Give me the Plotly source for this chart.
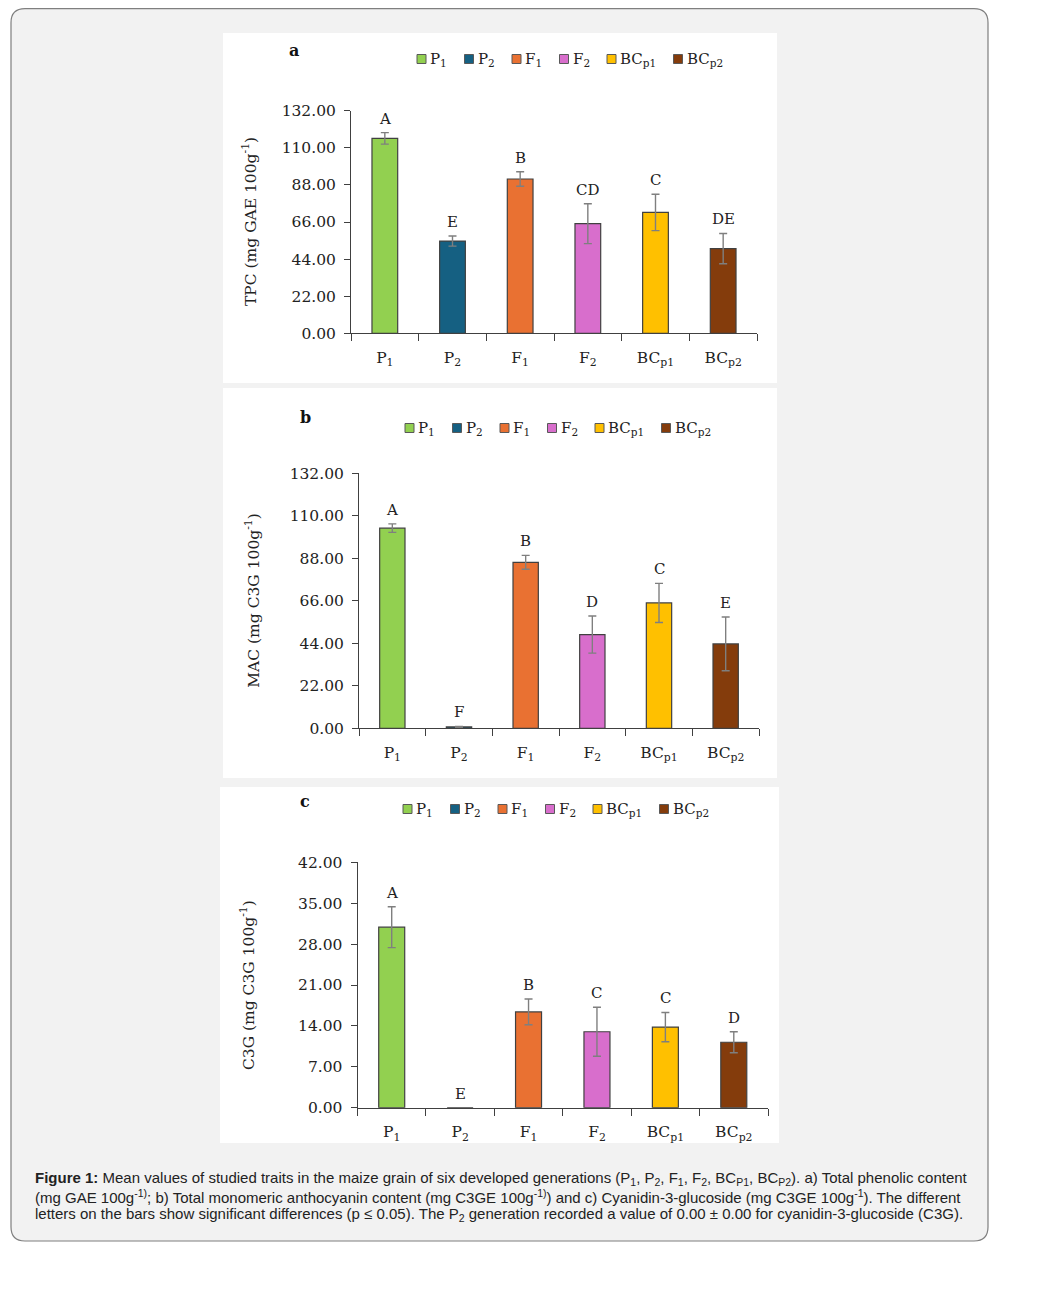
import plotly.graph_objects as go

# Data
generations = ['P<sub>1</sub>', 'P<sub>2</sub>', 'F<sub>1</sub>', 'F<sub>2</sub>',
               'BC<sub>p1</sub>', 'BC<sub>p2</sub>']

tpc = [115.6, 54.7, 91.5, 65.0, 71.7, 50.2]
tpc_err = [3.4, 3.0, 4.3, 11.8, 10.8, 9.0]
tpc_letters = ['A', 'E', 'B', 'CD', 'C', 'DE']

mac = [103.6, 0.7, 85.9, 48.5, 64.9, 43.7]
mac_err = [2.2, 0.3, 3.6, 9.6, 10.1, 13.9]
mac_letters = ['A', 'F', 'B', 'D', 'C', 'E']

c3g = [30.9, 0.0, 16.4, 13.0, 13.8, 11.2]
c3g_err = [3.5, 0.0, 2.2, 4.2, 2.5, 1.8]
c3g_letters = ['A', 'E', 'B', 'C', 'C', 'D']

tpc_ticks = [0, 22, 44, 66, 88, 110, 132]
mac_ticks = [0, 22, 44, 66, 88, 110, 132]
c3g_ticks = [0, 7, 14, 21, 28, 35, 42]

colors = ['#92d050', '#156082', '#e97132', '#d86ecc', '#ffc000', '#843c0c']

caption_lines = [
    '<b>Figure 1:</b> Mean values of studied traits in the maize grain of six developed '
    'generations (P<sub>1</sub>, P<sub>2</sub>, F<sub>1</sub>, F<sub>2</sub>, '
    'BC<sub>P1</sub>, BC<sub>P2</sub>). a) Total phenolic content',
    '(mg GAE 100g<sup>-1)</sup>; b) Total monomeric anthocyanin content '
    '(mg C3GE 100g<sup>-1)</sup>) and c) Cyanidin-3-glucoside (mg C3GE 100g<sup>-1</sup>). '
    'The different',
    'letters on the bars show significant differences (p ≤ 0.05). '
    'The P<sub>2</sub> generation recorded a value of 0.00 ± 0.00 for '
    'cyanidin-3-glucoside (C3G).',
]

# page body has an 8px margin; keep the figure inside the window
OFF = 8
W, H = 1051 - 2 * OFF, 1294 - 2 * OFF
SERIF = 'DejaVu Serif'
AXIS = '#404040'
TEXT = '#222222'


def fx(x):
    return (x - OFF) / W


def fy(y):
    return 1 - (y - OFF) / H


# panel layout in window pixels
panels = [
    dict(values=tpc, err=tpc_err, letters=tpc_letters, ticks=tpc_ticks,
         title='TPC (mg GAE 100g<sup>-1</sup>)', tag='a', title_x=250,
         box=(223, 33, 777, 383), plot=(351, 110.7, 757, 333.3),
         tag_xy=(294, 50), legend_xy=(417, 59)),
    dict(values=mac, err=mac_err, letters=mac_letters, ticks=mac_ticks,
         title='MAC (mg C3G 100g<sup>-1</sup>)', tag='b', title_x=253,
         box=(223, 388, 777, 778), plot=(359, 473.3, 759, 728.3),
         tag_xy=(305, 418), legend_xy=(405, 428)),
    dict(values=c3g, err=c3g_err, letters=c3g_letters, ticks=c3g_ticks,
         title='C3G (mg C3G 100g<sup>-1</sup>)', tag='c', title_x=247,
         box=(220, 787, 779, 1143), plot=(357.5, 862.3, 768, 1107.7),
         tag_xy=(305, 801), legend_xy=(403, 809)),
]

fig = go.Figure()
shapes = []
annotations = []

# outer rounded frame
x0, y0, x1, y1, r = 11, 8.7, 988, 1241, 14
path = (f'M {fx(x0 + r)},{fy(y0)} L {fx(x1 - r)},{fy(y0)} '
        f'Q {fx(x1)},{fy(y0)} {fx(x1)},{fy(y0 + r)} '
        f'L {fx(x1)},{fy(y1 - r)} Q {fx(x1)},{fy(y1)} {fx(x1 - r)},{fy(y1)} '
        f'L {fx(x0 + r)},{fy(y1)} Q {fx(x0)},{fy(y1)} {fx(x0)},{fy(y1 - r)} '
        f'L {fx(x0)},{fy(y0 + r)} Q {fx(x0)},{fy(y0)} {fx(x0 + r)},{fy(y0)} Z')
shapes.append(dict(type='path', path=path, xref='paper', yref='paper',
                   fillcolor='#f2f2f2', line=dict(color='#7f7f7f', width=1.2),
                   layer='below'))

for i, p in enumerate(panels):
    n = '' if i == 0 else str(i + 1)
    xa, ya = 'x' + n, 'y' + n

    bx0, by0, bx1, by1 = p['box']
    shapes.append(dict(type='rect', xref='paper', yref='paper',
                       x0=fx(bx0), x1=fx(bx1), y0=fy(by1), y1=fy(by0),
                       fillcolor='white', line=dict(width=0), layer='below'))

    for g, v, e, c in zip(generations, p['values'], p['err'], colors):
        fig.add_trace(go.Bar(
            x=[g], y=[v], xaxis=xa, yaxis=ya, width=0.38,
            marker=dict(color=c, line=dict(color=AXIS, width=1.2)),
            error_y=dict(type='data', array=[e], visible=e > 0,
                         color='#7f7f7f', thickness=1.4, width=4),
            showlegend=False,
        ))

    # significance letters above the error bars
    for g, v, e, t in zip(generations, p['values'], p['err'], p['letters']):
        annotations.append(dict(x=g, y=v + e, xref=xa, yref=ya, text=t,
                                showarrow=False, yanchor='bottom', yshift=3,
                                font=dict(family=SERIF, size=15, color=TEXT)))

    px0, py0, px1, py1 = p['plot']
    axis_font = dict(family=SERIF, size=15.5, color=TEXT)
    fig.update_layout({
        'xaxis' + n: dict(domain=[fx(px0), fx(px1)], anchor=ya, type='category',
                          showline=True, linecolor=AXIS, linewidth=1,
                          ticks='outside', tickson='boundaries', ticklen=7,
                          tickcolor=AXIS, showgrid=False, tickfont=axis_font,
                          ticklabelstandoff=10, automargin=False),
        'yaxis' + n: dict(domain=[fy(py1), fy(py0)], anchor=xa,
                          range=[0, p['ticks'][-1]], tickvals=p['ticks'],
                          tickformat='.2f', showline=True, linecolor=AXIS,
                          linewidth=1, ticks='outside', ticklen=6,
                          tickcolor=AXIS, showgrid=False, zeroline=False,
                          tickfont=axis_font, ticklabelstandoff=5,
                          automargin=False),
    })

    # y axis title
    annotations.append(dict(x=fx(p['title_x']), y=fy((py0 + py1) / 2),
                            xref='paper', yref='paper', text=p['title'],
                            textangle=-90, showarrow=False,
                            xanchor='center', yanchor='middle',
                            font=dict(family=SERIF, size=15.5, color=TEXT)))

    tx, ty = p['tag_xy']
    annotations.append(dict(x=fx(tx), y=fy(ty), xref='paper', yref='paper',
                            xanchor='center', yanchor='middle',
                            text='<b>' + p['tag'] + '</b>', showarrow=False,
                            font=dict(family=SERIF, size=16, color='#111')))

    # legend row
    lx, ly = p['legend_xy']
    for g, c in zip(generations, colors):
        s = 9
        shapes.append(dict(type='rect', xref='paper', yref='paper',
                           x0=fx(lx), x1=fx(lx + s), y0=fy(ly + s / 2),
                           y1=fy(ly - s / 2), fillcolor=c,
                           line=dict(color='#595959', width=1)))
        annotations.append(dict(x=fx(lx + s + 2), y=fy(ly), xref='paper',
                                yref='paper', text=g, showarrow=False,
                                xanchor='left', yanchor='middle',
                                font=dict(family=SERIF, size=15, color=TEXT)))
        lx += 66.5 if 'BC' in g else 47.5

# caption, one line per annotation
for k, line in enumerate(caption_lines):
    annotations.append(dict(x=fx(33), y=fy(1178 + 18 * k), xref='paper',
                            yref='paper', text=line, showarrow=False,
                            xanchor='left', yanchor='middle', align='left',
                            font=dict(family='Liberation Sans', size=15,
                                      color=TEXT)))

fig.update_layout(
    width=W, height=H,
    margin=dict(l=0, r=0, t=0, b=0, autoexpand=False),
    paper_bgcolor='white', plot_bgcolor='rgba(0,0,0,0)',
    barmode='overlay', showlegend=False,
    shapes=shapes, annotations=annotations,
)

fig.write_html('out.html')
